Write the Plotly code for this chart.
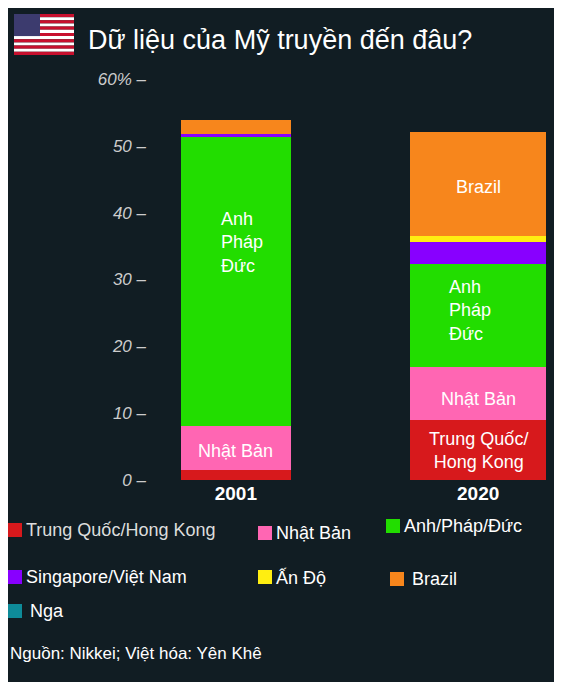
import plotly.graph_objects as go

years = ["2001", "2020"]
series = ["Trung Quốc/Hong Kong", "Nhật Bản", "Anh/Pháp/Đức", "Singapore/Việt Nam", "Ấn Độ", "Brazil", "Nga"]
colors = ["#d7191c", "#ff66b3", "#22dd00", "#8800ff", "#ffee11", "#f7861c", "#0e8b99"]
values = {
    "Trung Quốc/Hong Kong": [1.5, 9.0],
    "Nhật Bản": [6.6, 7.9],
    "Anh/Pháp/Đức": [43.2, 15.4],
    "Singapore/Việt Nam": [0.5, 3.3],
    "Ấn Độ": [0.0, 0.9],
    "Brazil": [2.1, 15.5],
    "Nga": [0.0, 0.0],
}
bar_widths = [0.455, 0.56]
BG = "#111d23"
FONT = "Liberation Sans, Arial, sans-serif"

W, H = 562, 682
OFF = 8  # page body margin
L, R, T, B = 151 - OFF, 7, 79 - OFF, 202 + OFF
pw, ph = W - L - R, H - T - B


def px(x, y):
    # reference pixel position -> paper coords
    x, y = x - OFF, y - OFF
    return (x - L) / pw, (H - B - y) / ph


fig = go.Figure()
for s, c in zip(series, colors):
    fig.add_trace(go.Bar(x=[0, 1], y=values[s], width=bar_widths, marker=dict(color=c, line_width=0),
                         name=s, showlegend=False, hoverinfo="y+name"))

ann = []
shapes = []


def cum(i, upto):
    return sum(values[s][i] for s in series[:upto])


LBL = dict(size=18, color="white")
ann.append(dict(x=-0.07, y=cum(0, 2) + 27.5, xref="x", yref="y", text="Anh<br>Pháp<br>Đức", showarrow=False,
                xanchor="left", align="left", font=LBL))
ann.append(dict(x=0, y=cum(0, 1) + values["Nhật Bản"][0] / 2 - 0.5, xref="x", yref="y", text="Nhật Bản",
                showarrow=False, font=LBL))
ann.append(dict(x=0.87, y=cum(1, 2) + values["Anh/Pháp/Đức"][1] / 2 + 0.8, xref="x", yref="y",
                text="Anh<br>Pháp<br>Đức", showarrow=False, xanchor="left", align="left", font=LBL))
ann.append(dict(x=1, y=cum(1, 1) + values["Nhật Bản"][1] / 2 - 0.8, xref="x", yref="y", text="Nhật Bản",
                showarrow=False, font=LBL))
ann.append(dict(x=1, y=values["Trung Quốc/Hong Kong"][1] / 2 - 0.1, xref="x", yref="y",
                text="Trung Quốc/<br>Hong Kong", showarrow=False, font=LBL))
ann.append(dict(x=1, y=cum(1, 5) + values["Brazil"][1] / 2 - 0.4, xref="x", yref="y", text="Brazil",
                showarrow=False, font=LBL))

# title
x0, y0 = px(86, 40)
ann.append(dict(x=x0, y=y0, xref="paper", yref="paper", text="Dữ liệu của Mỹ truyền đến đâu?", showarrow=False,
                xanchor="left", yanchor="middle", font=dict(size=27, color="white")))

# flag
fx0, fx1, fy0, fy1 = 14, 74, 14, 55
sh = (fy1 - fy0) / 13
for k in range(13):
    a, b = px(fx0, fy0 + k * sh)
    c, d = px(fx1, fy0 + (k + 1) * sh)
    shapes.append(dict(type="rect", xref="paper", yref="paper", x0=a, x1=c, y0=d, y1=b, line_width=0,
                       fillcolor="#c8102e" if k % 2 == 0 else "white"))
a, b = px(fx0, fy0)
c, d = px(fx0 + 26, fy0 + 7 * sh)
shapes.append(dict(type="rect", xref="paper", yref="paper", x0=a, x1=c, y0=d, y1=b, line_width=0, fillcolor="#3c3b6e"))

# top line
a, b = px(0, 3)
shapes.append(dict(type="line", xref="paper", yref="paper", x0=a, x1=px(W + OFF, 3)[0], y0=b, y1=b,
                   line=dict(color="#cccccc", width=1)))

# legend
legend_pos = [(8, 530), (258, 533), (386, 526), (8, 577), (258, 577), (390, 579), (8, 611)]
for (lx, ly), s, c in zip(legend_pos, series, colors):
    a, b = px(lx, ly - 7)
    c2, d = px(lx + 14, ly + 7)
    shapes.append(dict(type="rect", xref="paper", yref="paper", x0=a, x1=c2, y0=d, y1=b, line_width=0, fillcolor=c))
    tx, ty = px(lx + 16 + (4 if s in ("Nga", "Brazil") else 0), ly)
    ann.append(dict(x=tx, y=ty, xref="paper", yref="paper", text=s, showarrow=False, xanchor="left",
                    yanchor="middle", font=dict(size=18, color="#dddddd" if s.startswith("Trung") else "white")))

tx, ty = px(8, 653)
ann.append(dict(x=tx, y=ty, xref="paper", yref="paper", text="Nguồn: Nikkei; Việt hóa: Yên Khê", showarrow=False,
                xanchor="left", yanchor="middle", font=dict(size=17, color="white")))

fig.update_layout(
    width=W, height=H, barmode="stack", bargap=0,
    margin=dict(l=L, r=R, t=T, b=B),
    paper_bgcolor=BG, plot_bgcolor=BG,
    font=dict(family=FONT, color="white"),
    xaxis=dict(range=[-0.35, 1.35], tickvals=[0, 1], ticktext=["<b>2001</b>", "<b>2020</b>"],
               tickfont=dict(size=19, color="white"), showgrid=False, zeroline=False, showline=False, ticks=""),
    yaxis=dict(range=[0, 60], tickvals=[0, 10, 20, 30, 40, 50, 60],
               ticktext=["<i>0 –</i>", "<i>10 –</i>", "<i>20 –</i>", "<i>30 –</i>", "<i>40 –</i>", "<i>50 –</i>",
                         "<i>60% –</i>"],
               tickfont=dict(size=17, color="#cccccc"), showgrid=False, zeroline=False, ticklabelstandoff=4),
    annotations=ann, shapes=shapes,
)

fig.write_html("out.html")
